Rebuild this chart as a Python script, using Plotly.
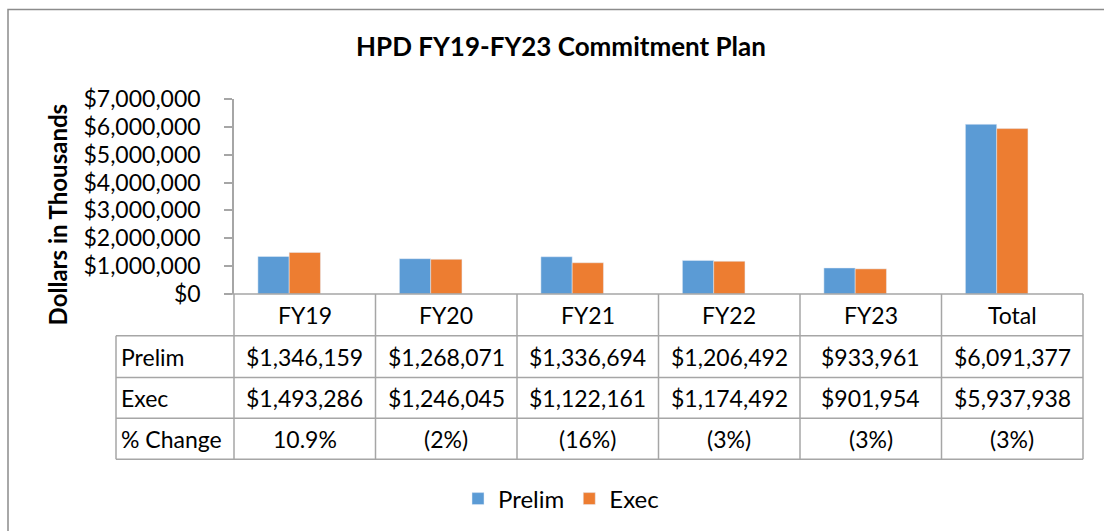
import plotly.graph_objects as go

# ---- data ----
categories = ["FY19", "FY20", "FY21", "FY22", "FY23", "Total"]
prelim = [1346159, 1268071, 1336694, 1206492, 933961, 6091377]
exec_ = [1493286, 1246045, 1122161, 1174492, 901954, 5937938]
pct_change = ["10.9%", "(2%)", "(16%)", "(3%)", "(3%)", "(3%)"]
row_labels = ["Prelim", "Exec", "% Change"]

# ---- layout geometry (window pixels) ----
W, H = 1104, 531
L, R, T, B = 234, 1083, 99, 295
FONT = "Lato, 'Open Sans', sans-serif"
GRID = "#A6A6A6"
BLUE = "#5B9BD5"
ORANGE = "#ED7D31"
FS = 23


def px(x):
    return (x - L) / (R - L)


def py(y):
    return (B - y) / (B - T)


fig = go.Figure()
fig.add_trace(go.Bar(name="Prelim", x=categories, y=prelim, marker_color=BLUE,
                     offset=-0.331, width=0.221, hoverinfo="x+y"))
fig.add_trace(go.Bar(name="Exec", x=categories, y=exec_, marker_color=ORANGE,
                     offset=-0.110, width=0.221, hoverinfo="x+y"))

shapes = []
# outer chart border
shapes.append(dict(type="rect", xref="paper", yref="paper",
                   x0=px(8), x1=px(1140), y0=py(9), y1=py(560),
                   line=dict(color="#8C8C8C", width=1.5)))

ncol = len(categories)
colw = (R - L) / ncol
row_top = [295, 337, 379, 420]
row_bot = 461
lbl_left = 116

# x axis line (table top)
shapes.append(dict(type="line", xref="paper", yref="paper",
                   x0=px(226), x1=px(R), y0=py(295), y1=py(295),
                   line=dict(color=GRID, width=1.5)))
# horizontal table lines
for yy in row_top[1:] + [row_bot]:
    shapes.append(dict(type="line", xref="paper", yref="paper",
                       x0=px(lbl_left), x1=px(R), y0=py(yy), y1=py(yy),
                       line=dict(color=GRID, width=1.5)))
# vertical table lines
for i in range(ncol + 1):
    xx = L + i * colw
    shapes.append(dict(type="line", xref="paper", yref="paper",
                       x0=px(xx), x1=px(xx), y0=py(295), y1=py(row_bot),
                       line=dict(color=GRID, width=1.5)))
shapes.append(dict(type="line", xref="paper", yref="paper",
                   x0=px(lbl_left), x1=px(lbl_left), y0=py(337), y1=py(row_bot),
                   line=dict(color=GRID, width=1.5)))

annotations = []
tfont = dict(family=FONT, size=FS, color="black")
rows_vals = [[f"${v:,.0f}" for v in prelim],
             [f"${v:,.0f}" for v in exec_],
             pct_change]
# header row
yc = (row_top[0] + row_top[1]) / 2
for i, c in enumerate(categories):
    annotations.append(dict(xref="paper", yref="paper", x=px(L + (i + 0.5) * colw),
                            y=py(yc), text=c, showarrow=False, font=tfont,
                            xanchor="center", yanchor="middle"))
bounds = row_top[1:] + [row_bot]
for r, (lab, vals) in enumerate(zip(row_labels, rows_vals)):
    yc = (bounds[r] + bounds[r + 1]) / 2
    annotations.append(dict(xref="paper", yref="paper", x=px(lbl_left + 3), y=py(yc),
                            text=lab, showarrow=False, font=tfont,
                            xanchor="left", yanchor="middle"))
    for i, v in enumerate(vals):
        annotations.append(dict(xref="paper", yref="paper", x=px(L + (i + 0.5) * colw),
                                y=py(yc), text=v, showarrow=False, font=tfont,
                                xanchor="center", yanchor="middle"))

# y axis title
annotations.append(dict(xref="paper", yref="paper", x=px(57), y=py(215),
                        text="<b>Dollars in Thousands</b>", textangle=-90,
                        showarrow=False, font=dict(family=FONT, size=24, color="black"),
                        xanchor="center", yanchor="middle"))

fig.update_layout(
    width=W, height=H,
    margin=dict(l=L, r=W - R, t=T, b=H - B, pad=0),
    paper_bgcolor="white", plot_bgcolor="white",
    barmode="overlay",
    title=dict(text="<b>HPD FY19-FY23 Commitment Plan</b>", x=561 / W, xanchor="center",
               y=1 - 47 / H, yanchor="middle", yref="container",
               font=dict(family=FONT, size=26, color="black")),
    xaxis=dict(range=[-0.5, 5.5], showticklabels=False, showline=False, ticks="",
               showgrid=False, zeroline=False, fixedrange=True),
    yaxis=dict(range=[0, 7000000], dtick=1000000, tickformat="$,.0f",
               showline=True, linecolor=GRID, linewidth=1.5,
               ticks="outside", ticklen=8, tickcolor=GRID, tickwidth=1.5,
               ticklabelstandoff=19,
               showgrid=False, zeroline=False,
               tickfont=dict(family=FONT, size=FS, color="black")),
    legend=dict(orientation="h", x=px(561), xanchor="center", y=py(499), yanchor="middle",
                font=dict(family=FONT, size=FS + 1, color="black"), itemwidth=30,
                bgcolor="rgba(0,0,0,0)"),
    shapes=shapes,
    annotations=annotations,
)

# remove the default page margin so the figure sits at the window origin
fig.write_html("out.html", config={"displayModeBar": False},
               post_script="document.body.style.margin='0';document.body.style.overflow='hidden';")
